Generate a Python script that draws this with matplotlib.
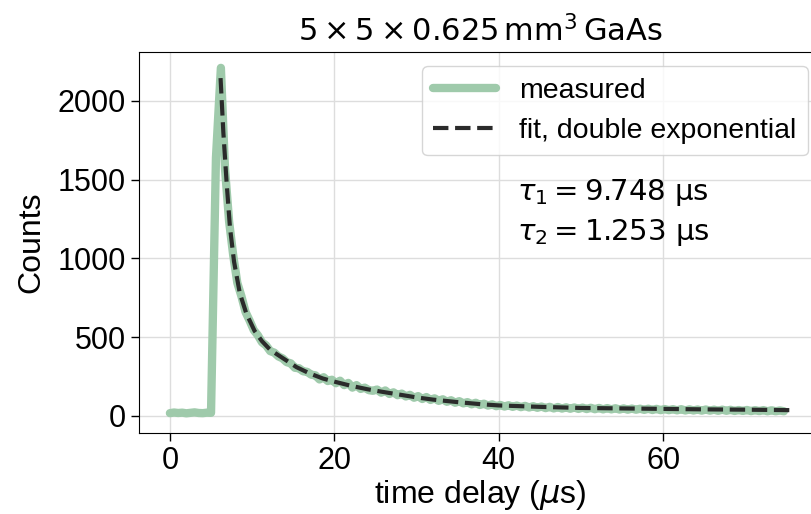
import numpy as np
import matplotlib
matplotlib.use("Agg")
import matplotlib.pyplot as plt

# measured trace (time in us, counts)
# baseline + rising edge, then the decay sampled every 0.5 us from 6.7 us
t_rise = [0.0, 0.5, 1.0, 1.5, 2.0, 2.5, 3.0, 3.5, 4.0, 4.5, 5.0, 5.6, 6.2]
counts_rise = [18, 22, 19, 21, 17, 20, 23, 19, 18, 21, 20, 1640, 2210]
counts_decay = [
    1570, 1235, 1020, 845, 760, 660, 605, 545, 512, 468, 448, 412, 402, 378,
    366, 342, 334, 306, 303, 284, 280, 262, 258, 232, 246, 222, 230, 208,
    224, 196, 210, 180, 196, 172, 180, 164, 160, 168, 148, 162, 140, 150,
    132, 142, 124, 134, 116, 126, 108, 120, 102, 112, 96, 106, 90, 100, 84,
    94, 80, 88, 74, 84, 70, 78, 66, 74, 62, 70, 60, 68, 58, 66, 56, 64, 54,
    62, 52, 60, 50, 58, 48, 57, 47, 55, 46, 54, 45, 53, 44, 52, 43, 51, 42,
    50, 42, 49, 41, 48, 40, 47, 40, 46, 39, 46, 38, 45, 37, 44, 37, 43, 36,
    43, 35, 42, 35, 41, 34, 41, 34, 40, 33, 40, 33, 39, 32, 38, 32, 38, 31,
    37, 31, 37, 30, 36, 30, 35, 30]
t_decay = 6.7 + 0.5 * np.arange(len(counts_decay))

t_meas = np.concatenate([t_rise, t_decay])
counts_meas = np.concatenate([counts_rise, counts_decay])

# double exponential fit
t_fit = [6.16, 6.5, 6.9, 7.3, 7.8, 8.5, 9.3, 10.3, 11.2, 12.2, 13.8, 15.4,
         17.0, 18.6, 20.0, 22.0, 24.0, 26.0, 28.0, 30.0, 32.0, 35.0, 38.0,
         40.0, 45.0, 50.0, 55.0, 60.0, 65.0, 70.0, 75.5]
counts_fit = [2145, 1800, 1480, 1200, 980, 780, 650, 540, 475, 420, 365, 310,
              270, 238, 218, 192, 170, 152, 135, 118, 104, 88, 74, 67, 58, 51,
              48, 45, 42, 40, 37]

tau_labels = [r"$\tau_1 = 9.748$ µs", r"$\tau_2 = 1.253$ µs"]

plt.rcParams['font.family'] = ['Liberation Sans', 'DejaVu Sans']
plt.rcParams['mathtext.fontset'] = 'dejavusans'

fig = plt.figure(figsize=(8.12, 5.14), dpi=100)
ax = fig.add_axes([0.171, 0.1576, 0.841, 0.741])

ax.plot(t_meas, counts_meas, color='#9fcaab', lw=6, label='measured',
        solid_capstyle='round', solid_joinstyle='round', zorder=2)
ax.plot(t_fit, counts_fit, color='#2b2b2b', lw=3, ls='--',
        label='fit, double exponential', zorder=3)

ax.set_xlim(-3.78, 79.3)
ax.set_ylim(-108, 2310)
ax.set_xticks([0, 20, 40, 60])
ax.set_yticks([0, 500, 1000, 1500, 2000])
ax.grid(True, color='#dddddd', lw=1)
ax.set_axisbelow(True)
ax.tick_params(labelsize=22, length=6, width=1)

ax.set_xlabel(r"time delay ($\mu$s)", fontsize=23, labelpad=1)
ax.set_ylabel("Counts", fontsize=23, labelpad=8)
ax.set_title(r"$5\times5\times0.625\,\mathrm{mm}^3\,\mathrm{GaAs}$",
             fontsize=22, pad=8)

ax.text(42.2, 1421, tau_labels[0], fontsize=21, va='center',
        family='DejaVu Sans')
ax.text(42.2, 1167, tau_labels[1], fontsize=21, va='center',
        family='DejaVu Sans')

ax.legend(loc='upper right', fontsize=20.5, handlelength=2.2)

fig.savefig('out.png', dpi=100)
